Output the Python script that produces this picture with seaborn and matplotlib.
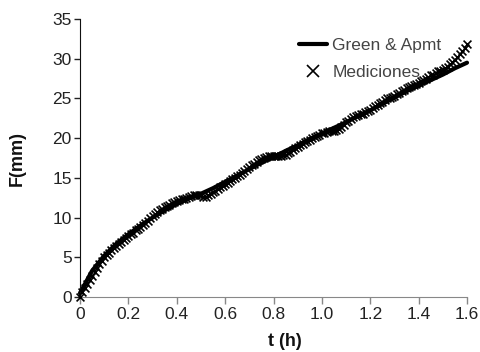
import numpy as np
import pandas as pd
import matplotlib
matplotlib.use("Agg")
import matplotlib.pyplot as plt
import seaborn as sns
from matplotlib.lines import Line2D

# Measured cumulative infiltration, sampled every 0.01 h
t_med = np.round(np.arange(0, 161) * 0.01, 2)
F_med = [
    0.0, 0.6, 1.1, 1.6, 2.1, 2.6, 3.1, 3.6, 4.1, 4.5,
    5.0, 5.3, 5.6, 5.9, 6.2, 6.4, 6.7, 6.9, 7.2, 7.4,
    7.7, 7.9, 8.1, 8.4, 8.6, 8.8, 9.1, 9.3, 9.6, 9.9,
    10.2, 10.5, 10.7, 10.9, 11.1, 11.3, 11.5, 11.6, 11.8, 12.0,
    12.1, 12.2, 12.3, 12.4, 12.5, 12.6, 12.7, 12.8, 12.9, 12.9,
    12.8, 12.6, 12.6, 12.8, 13.0, 13.2, 13.4, 13.6, 13.8, 14.0,
    14.2, 14.4, 14.6, 14.8, 15.0, 15.2, 15.4, 15.6, 15.9, 16.1,
    16.4, 16.6, 16.8, 17.0, 17.2, 17.4, 17.5, 17.6, 17.7, 17.8,
    17.8, 17.8, 17.8, 17.8, 17.9, 17.9, 18.1, 18.3, 18.5, 18.7,
    18.9, 19.1, 19.3, 19.5, 19.7, 19.8, 20.0, 20.1, 20.3, 20.4,
    20.6, 20.7, 20.8, 20.9, 20.9, 20.9, 21.0, 21.2, 21.4, 21.7,
    22.0, 22.2, 22.4, 22.6, 22.8, 22.9, 23.0, 23.1, 23.3, 23.4,
    23.6, 23.8, 24.0, 24.2, 24.4, 24.6, 24.8, 25.0, 25.1, 25.2,
    25.3, 25.5, 25.7, 25.9, 26.1, 26.3, 26.5, 26.6, 26.7, 26.8,
    27.0, 27.2, 27.3, 27.5, 27.7, 27.9, 28.0, 28.2, 28.4, 28.5,
    28.6, 28.8, 29.0, 29.3, 29.6, 29.9, 30.2, 30.6, 31.0, 31.4,
    31.8,
]

# Green & Ampt model curve
t_ga = [0.0, 0.05, 0.10, 0.15, 0.20, 0.25, 0.30, 0.35, 0.40, 0.45,
        0.50, 0.55, 0.60, 0.65, 0.70, 0.75, 0.80, 0.85, 0.90, 0.95,
        1.00, 1.05, 1.10, 1.15, 1.20, 1.25, 1.30, 1.35, 1.40, 1.45,
        1.50, 1.55, 1.60]
F_ga = [0.5, 3.3, 5.2, 6.7, 7.9, 9.0, 10.0, 10.9, 11.7, 12.4,
        13.0, 13.7, 14.5, 15.3, 16.1, 16.9, 17.6, 18.4, 19.1, 19.9,
        20.6, 21.3, 22.0, 22.8, 23.5, 24.3, 25.1, 25.9, 26.6, 27.3,
        28.0, 28.8, 29.5]

x_ticks = [0, 0.2, 0.4, 0.6, 0.8, 1.0, 1.2, 1.4, 1.6]
x_tick_labels = ["0", "0.2", "0.4", "0.6", "0.8", "1.0", "1.2", "1.4", "1.6"]
y_ticks = [0, 5, 10, 15, 20, 25, 30, 35]

sns.set_style("ticks")
plt.rcParams["font.family"] = ["Liberation Sans", "DejaVu Sans"]

df_med = pd.DataFrame({"t": t_med, "F": F_med})
df_ga = pd.DataFrame({"t": t_ga, "F": F_ga})

fig = plt.figure(figsize=(4.8, 3.52), dpi=100)
ax = fig.add_axes([80 / 480, 1 - 297 / 352, (467 - 80) / 480, (297 - 19) / 352])

sns.lineplot(data=df_ga, x="t", y="F", ax=ax, color="black", linewidth=3.0,
             zorder=2, clip_on=False)
sns.scatterplot(data=df_med, x="t", y="F", ax=ax, marker="x", color="black",
                s=32, linewidth=1.2, zorder=3, clip_on=False)

ax.set_xlim(0, 1.6)
ax.set_ylim(0, 35)
ax.set_xticks(x_ticks)
ax.set_xticklabels(x_tick_labels)
ax.set_yticks(y_ticks)
ax.tick_params(axis="both", labelsize=12.5, colors="#222222", length=4, width=1,
               direction="out", pad=2)
ax.tick_params(axis="x", colors="#888888", labelcolor="#222222", length=5)

for side in ["top", "right"]:
    ax.spines[side].set_visible(False)
ax.spines["left"].set_color("#111111")
ax.spines["bottom"].set_color("#888888")

ax.set_xlabel("t (h)", fontsize=13, fontweight="bold", color="#111111")
ax.set_ylabel("F(mm)", fontsize=13, fontweight="bold", color="#111111")
ax.xaxis.set_label_coords(0.53, -0.13)
ax.yaxis.set_label_coords(-0.14, 0.5)

handles = [
    Line2D([], [], color="black", linewidth=3.0),
    Line2D([], [], color="black", marker="x", linestyle="none",
           markersize=8, markeredgewidth=1.2),
]
leg = ax.legend(handles, ["Green & Apmt", "Mediciones"], frameon=False,
                loc="upper left", bbox_to_anchor=(287 / 480, 1 - 26 / 352),
                bbox_transform=fig.transFigure, fontsize=12.5,
                handlelength=1.6, handletextpad=0.3, labelspacing=0.65,
                borderpad=0.2)
for txt in leg.get_texts():
    txt.set_color("#444444")

fig.savefig("out.png", dpi=100)
